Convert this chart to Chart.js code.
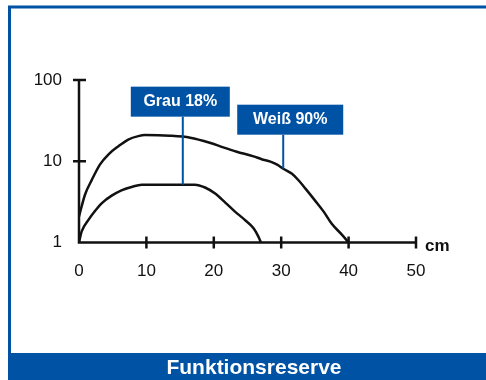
<!DOCTYPE html>
<html>
<head>
<meta charset="utf-8">
<script src="https://cdn.jsdelivr.net/npm/chart.js@4/dist/chart.umd.min.js"></script>
<style>
  html, body { margin: 0; padding: 0; background: #fff; }
  canvas { display: block; }
</style>
</head>
<body>
<canvas id="chart" width="486" height="380"></canvas>
<script>
// Kurven ablesen aus dem Bild (x in cm, y logarithmisch)
const weissX = [0, 0.9, 1.9, 3.1, 4.35, 5.85, 7.3, 8.8, 9.8, 13.5, 16.5, 19.4, 21.4, 23.4, 25.9, 27.1, 28.4, 29.4, 30.3, 31.6, 32.6, 33.6, 35, 36.3, 37.5, 39, 40];
const weissY = [2.1, 3.9, 5.9, 9.1, 12.1, 15.3, 18.5, 20.4, 21, 20.6, 19.5, 16.9, 14.8, 13.1, 11.5, 10.6, 9.9, 9.1, 8.1, 7.0, 5.8, 4.6, 3.3, 2.4, 1.7, 1.25, 1];
const grauX = [0, 0.4, 1.4, 2.4, 3.4, 4.85, 6.3, 7.8, 9.3, 12.5, 17.2, 18.7, 20.2, 21.7, 23.1, 24.6, 25.9, 26.6, 27];
const grauY = [1, 1.37, 1.9, 2.46, 3.06, 3.77, 4.39, 4.83, 5.15, 5.15, 5.15, 4.75, 4.0, 3.1, 2.42, 1.9, 1.5, 1.19, 1];

const xTicks = [0, 10, 20, 30, 40, 50];
const yTicks = [1, 10, 100];
const xUnit = 'cm';
const title = 'Funktionsreserve';

// Beschriftungen: Text und Punkt auf der Kurve
const labelTexts = ['Grau 18%', 'Weiß 90%'];
const labelX = [15.4, 30.3];
const labelY = [5.15, 8.1];

const BLUE = '#0052a5';
const INK = '#111';

function toPoints(xs, ys) {
  return xs.map((x, i) => ({ x, y: ys[i] }));
}

// Rahmen, Fußbalken und Titel
const framePlugin = {
  id: 'frame',
  beforeDraw(chart) {
    const ctx = chart.ctx;
    ctx.save();
    ctx.fillStyle = '#fff';
    ctx.fillRect(0, 0, chart.width, chart.height);
    ctx.strokeStyle = BLUE;
    ctx.lineWidth = 3;
    ctx.strokeRect(9.5, 7, 500, 360);
    ctx.fillStyle = BLUE;
    ctx.fillRect(8, 353, 480, 27);
    ctx.fillStyle = '#fff';
    ctx.font = 'bold 21px "Liberation Sans", Arial, sans-serif';
    ctx.textAlign = 'center';
    ctx.textBaseline = 'middle';
    ctx.fillText(title, 254, 368);
    ctx.restore();
  }
};

// Achsen mit durchgehenden Strichen und Einheit
const axesPlugin = {
  id: 'axes',
  afterDatasetsDraw(chart) {
    const ctx = chart.ctx;
    const xs = chart.scales.x;
    const ys = chart.scales.y;
    const x0 = xs.getPixelForValue(0);
    const y0 = ys.getPixelForValue(1);
    ctx.save();
    ctx.strokeStyle = INK;
    ctx.lineWidth = 2.5;
    ctx.beginPath();
    ctx.moveTo(x0, ys.getPixelForValue(100));
    ctx.lineTo(x0, y0);
    ctx.lineTo(xs.getPixelForValue(50), y0);
    xTicks.slice(1).forEach(v => {
      const px = xs.getPixelForValue(v);
      ctx.moveTo(px, y0 - 6);
      ctx.lineTo(px, y0 + 6);
    });
    yTicks.slice(1).forEach(v => {
      const py = ys.getPixelForValue(v);
      ctx.moveTo(x0 - 6, py);
      ctx.lineTo(x0 + 7, py);
    });
    ctx.stroke();
    ctx.fillStyle = INK;
    ctx.font = 'bold 17px "Liberation Sans", Arial, sans-serif';
    ctx.textBaseline = 'middle';
    ctx.fillText(xUnit, xs.getPixelForValue(50) + 9, y0 + 4);
    ctx.restore();
  }
};

// blaue Kästchen mit Linie zur Kurve
const boxOffsets = [{ dx: -2.5, dy: 68, w: 99 }, { dx: 7, dy: 34, w: 106 }];
const labelPlugin = {
  id: 'boxLabels',
  afterDatasetsDraw(chart) {
    const ctx = chart.ctx;
    const xs = chart.scales.x;
    const ys = chart.scales.y;
    ctx.save();
    labelTexts.forEach((txt, i) => {
      const px = xs.getPixelForValue(labelX[i]);
      const py = ys.getPixelForValue(labelY[i]);
      const o = boxOffsets[i];
      const bottom = py - o.dy;
      const cx = px + o.dx;
      ctx.strokeStyle = BLUE;
      ctx.lineWidth = 2;
      ctx.beginPath();
      ctx.moveTo(px, py);
      ctx.lineTo(px, bottom);
      ctx.stroke();
      ctx.fillStyle = BLUE;
      ctx.fillRect(cx - o.w / 2, bottom - 30, o.w, 30);
      ctx.fillStyle = '#fff';
      ctx.font = 'bold 16px "Liberation Sans", Arial, sans-serif';
      ctx.textAlign = 'center';
      ctx.textBaseline = 'middle';
      ctx.fillText(txt, cx, bottom - 15);
    });
    ctx.restore();
  }
};

const lineStyle = {
  borderColor: INK,
  borderWidth: 2.5,
  pointRadius: 0,
  fill: false,
  cubicInterpolationMode: 'monotone'
};

new Chart(document.getElementById('chart'), {
  type: 'line',
  data: {
    datasets: [
      { label: 'Weiß 90%', data: toPoints(weissX, weissY), ...lineStyle },
      { label: 'Grau 18%', data: toPoints(grauX, grauY), ...lineStyle }
    ]
  },
  options: {
    responsive: false,
    animation: false,
    devicePixelRatio: 1,
    layout: { padding: { left: 0, top: 80, right: 70, bottom: 97.5 } },
    plugins: {
      legend: { display: false },
      tooltip: { enabled: false }
    },
    scales: {
      x: {
        type: 'linear',
        min: 0,
        max: 50,
        afterBuildTicks: s => { s.ticks = xTicks.map(v => ({ value: v })); },
        afterFit: s => { s.height = 40; },
        grid: { display: false, drawTicks: false },
        border: { display: false },
        ticks: {
          color: INK,
          padding: 19,
          maxRotation: 0,
          font: { family: '"Liberation Sans", Arial, sans-serif', size: 17 }
        }
      },
      y: {
        type: 'logarithmic',
        min: 1,
        max: 100,
        afterBuildTicks: s => { s.ticks = yTicks.map(v => ({ value: v })); },
        afterFit: s => { s.width = 79; },
        grid: { display: false, drawTicks: false },
        border: { display: false },
        ticks: {
          color: INK,
          padding: 17,
          callback: v => String(v),
          font: { family: '"Liberation Sans", Arial, sans-serif', size: 17 }
        }
      }
    }
  },
  plugins: [framePlugin, axesPlugin, labelPlugin]
});
</script>
</body>
</html>
